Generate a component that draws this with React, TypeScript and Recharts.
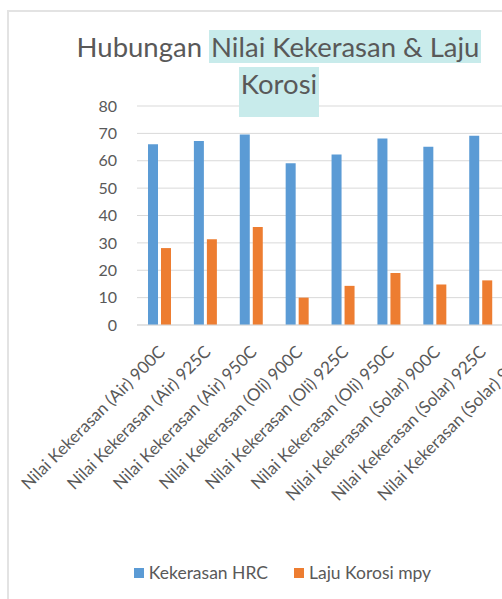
import { BarChart, Bar, XAxis, YAxis, CartesianGrid, Legend } from 'recharts';

const categories = [
  'Nilai Kekerasan (Air) 900C',
  'Nilai Kekerasan (Air) 925C',
  'Nilai Kekerasan (Air) 950C',
  'Nilai Kekerasan (Oli) 900C',
  'Nilai Kekerasan (Oli) 925C',
  'Nilai Kekerasan (Oli) 950C',
  'Nilai Kekerasan (Solar) 900C',
  'Nilai Kekerasan (Solar) 925C',
  'Nilai Kekerasan (Solar) 950C',
];

// last category is cut off at the right edge of the picture
const kekerasanHRC = [66, 67.2, 69.6, 59.1, 62.3, 68.1, 65.1, 69.1, null];
const lajuKorosi = [28.1, 31.3, 35.8, 10, 14.3, 19, 14.8, 16.3, null];

const yTicks = [0, 10, 20, 30, 40, 50, 60, 70, 80];

const data = categories.map((name, i) => ({
  name,
  hrc: kekerasanHRC[i],
  mpy: lajuKorosi[i],
}));

const FONT = 'Lato, "Open Sans", sans-serif';
const TEXT = '#595959';

function AngledTick({ x, y, payload }: any) {
  const tx = x + 6;
  const ty = y + 20;
  return (
    <text
      x={tx}
      y={ty}
      transform={`rotate(-45 ${tx} ${ty})`}
      textAnchor="end"
      fill={TEXT}
      fontSize={17}
      fontFamily={FONT}
    >
      {payload.value}
    </text>
  );
}

function LegendContent({ payload }: any) {
  return (
    <div style={{ display: 'flex', justifyContent: 'center', gap: 26, fontFamily: FONT, fontSize: 17.5, color: TEXT }}>
      {(payload || []).map((p: any) => (
        <div key={p.value} style={{ display: 'flex', alignItems: 'center' }}>
          <span style={{ width: 10, height: 10, background: p.color, marginRight: 5, display: 'inline-block' }} />
          <span>{p.value}</span>
        </div>
      ))}
    </div>
  );
}

export default function App() {
  return (
    <div style={{ position: 'fixed', left: 0, top: 0, width: 502, height: 599, overflow: 'hidden', background: '#fff' }}>
      <div
        style={{
          position: 'absolute',
          left: 7,
          top: 10,
          width: 551,
          height: 640,
          border: '2px solid #e3e3e3',
          boxSizing: 'border-box',
        }}
      >
        <BarChart
          width={547}
          height={620}
          data={data}
          margin={{ top: 94, right: 6, left: 88, bottom: 87 }}
          barSize={10}
          barGap={3}
        >
          <CartesianGrid vertical={false} stroke="#d9d9d9" />
          <XAxis
            dataKey="name"
            interval={0}
            height={220}
            tickLine={false}
            axisLine={{ stroke: '#d9d9d9' }}
            tick={<AngledTick />}
          />
          <YAxis
            width={40}
            domain={[0, 80]}
            ticks={yTicks}
            axisLine={false}
            tickLine={false}
            tickMargin={14}
            tick={{ fill: TEXT, fontSize: 16, fontFamily: FONT }}
          />
          <Legend
            layout="horizontal"
            verticalAlign="middle"
            align="center"
            wrapperStyle={{ top: 550, left: 0, width: 547 }}
            content={<LegendContent />}
          />
          <Bar dataKey="hrc" name="Kekerasan HRC" fill="#5b9bd5" isAnimationActive={false} />
          <Bar dataKey="mpy" name="Laju Korosi mpy" fill="#ed7d31" isAnimationActive={false} />
        </BarChart>
        <div
          style={{
            position: 'absolute',
            left: 0,
            top: 16,
            width: 540,
            textAlign: 'center',
            fontFamily: FONT,
            fontSize: 27.5,
            lineHeight: '37px',
            color: TEXT,
            zIndex: 2,
          }}
        >
          Hubungan{' '}
          <span style={{ background: '#c8ebeb', padding: '0 2px' }}>Nilai Kekerasan &amp; Laju</span>
          <br />
          <span style={{ background: '#c8ebeb', padding: '0 2px 17px' }}>Korosi</span>
        </div>
      </div>
    </div>
  );
}
